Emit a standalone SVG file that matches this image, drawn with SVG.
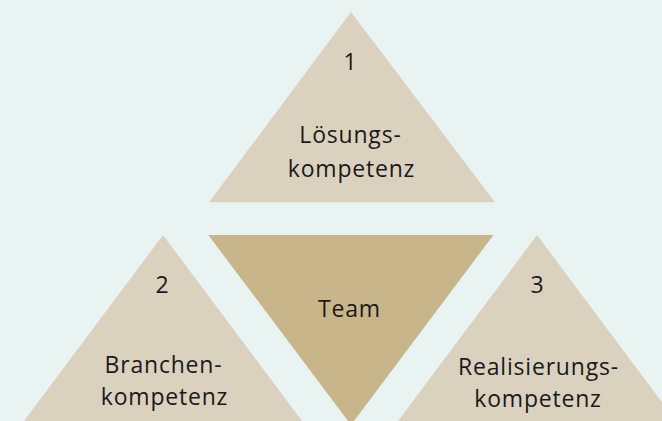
<svg xmlns="http://www.w3.org/2000/svg" width="662" height="421" viewBox="0 0 662 421">
<style>
.light{fill:#dad2bf}
.team{fill:#c8b68a}
text{font-family:"Open Sans","Noto Sans",sans-serif;font-size:23px;letter-spacing:0.8px;fill:#1a1a1a;text-anchor:middle}
</style>
<rect width="662" height="421" fill="#e9f4f2"/>
<g id="node1">
<polygon class="light" points="351,12 495,202.3 209,202.3"/>
<text x="350.5" y="70">1</text>
<text x="350.5" y="143">Lösungs-</text>
<text x="351.5" y="176.5">kompetenz</text>
</g>
<g id="team">
<polygon class="team" points="208.3,235 493.5,235 351,425"/>
<text x="349.5" y="316.5">Team</text>
</g>
<g id="node2">
<polygon class="light" points="163,235 302,421 302,430 24,430 24,421"/>
<text x="162.5" y="293.3">2</text>
<text x="163.5" y="373.3">Branchen-</text>
<text x="164.5" y="405">kompetenz</text>
</g>
<g id="node3">
<polygon class="light" points="537,235 676,421 676,430 398,430 398,421"/>
<text x="537.5" y="293.3">3</text>
<text x="538.5" y="375">Realisierungs-</text>
<text x="538" y="406.7">kompetenz</text>
</g>
<g id="connectors"></g>
</svg>
